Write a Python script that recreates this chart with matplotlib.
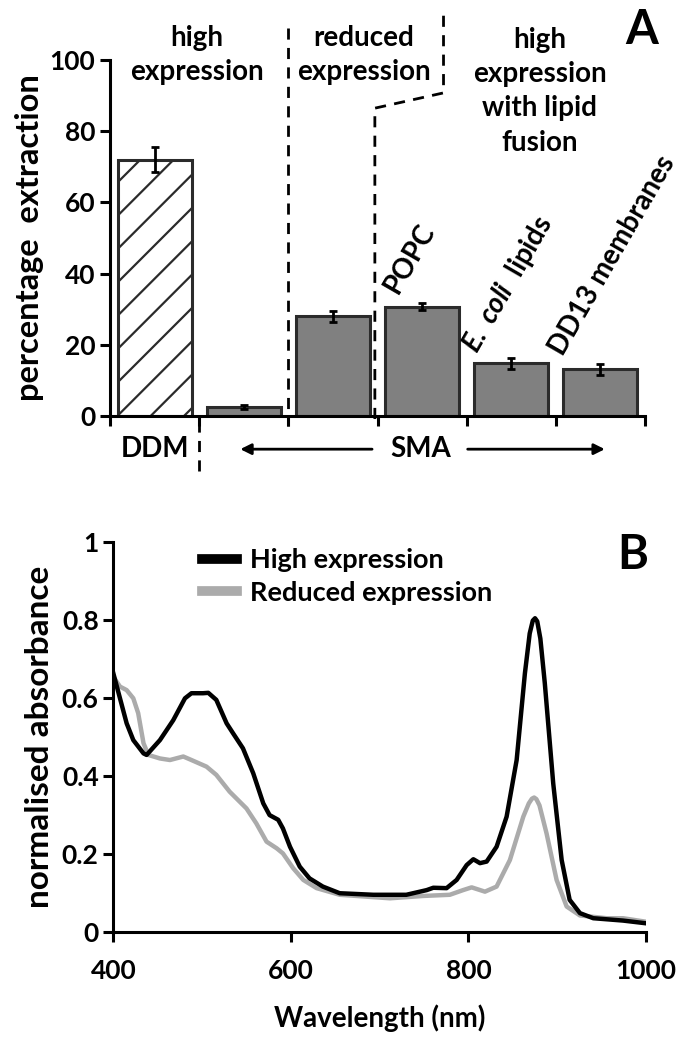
import matplotlib
matplotlib.use("Agg")
import matplotlib.pyplot as plt
from matplotlib.lines import Line2D

plt.rcParams['font.family'] = ['Lato', 'DejaVu Sans']
plt.rcParams['font.weight'] = 'bold'
plt.rcParams['mathtext.fontset'] = 'custom'
plt.rcParams['mathtext.it'] = 'Lato:italic:bold'
plt.rcParams['mathtext.rm'] = 'Lato:bold'
plt.rcParams['hatch.linewidth'] = 1.6

# ---- Panel A data ----
categories = ['DDM', 'SMA high', 'SMA reduced', 'POPC', 'E. coli lipids', 'DD13 membranes']
extraction = [72.0, 2.5, 28.0, 30.6, 14.7, 13.1]
extraction_err = [3.5, 0.6, 1.5, 1.0, 1.5, 1.5]
rot_labels = ['', '', '', 'POPC', r'$\mathit{E.\ coli}$  lipids', 'DD13 membranes']
yticks_a = [0, 20, 40, 60, 80, 100]

# ---- Panel B data ----
wl_high = [400, 415, 422.5, 434, 437.5, 452.5, 467.5, 480.7, 488, 501, 507, 516, 527.6, 535,
           546, 557.6, 568.9, 576, 585.7, 591, 599, 610, 621, 636, 655, 693, 730, 753, 760.4,
           775.4, 786.7, 798, 805.5, 813, 820.5, 831.7, 843, 854.3, 863.6, 869, 872.5, 875,
           877.5, 881, 886, 895.5, 905, 914, 925.6, 940.6, 974, 1000]
abs_high = [0.663, 0.535, 0.492, 0.458, 0.454, 0.492, 0.543, 0.599, 0.612, 0.612, 0.613, 0.595,
            0.535, 0.509, 0.471, 0.407, 0.330, 0.300, 0.288, 0.266, 0.219, 0.168, 0.138, 0.117,
            0.100, 0.096, 0.096, 0.108, 0.114, 0.113, 0.134, 0.172, 0.187, 0.177, 0.181, 0.219,
            0.296, 0.441, 0.663, 0.765, 0.798, 0.804, 0.796, 0.752, 0.638, 0.381, 0.185, 0.083,
            0.049, 0.036, 0.030, 0.023]
wl_red = [400, 407.5, 415, 422.5, 428, 434, 439.4, 452.5, 463.8, 478.8, 488, 505, 516, 531,
          550, 561, 572.6, 584, 591, 602.6, 614, 629, 655, 711.6, 749, 779, 794, 803.6, 818.6,
          831.7, 846.7, 861.8, 868, 871.5, 874, 876.5, 880, 888, 899.3, 910.6, 925.6, 955.6,
          974, 1000]
abs_red = [0.654, 0.629, 0.620, 0.599, 0.561, 0.484, 0.454, 0.445, 0.441, 0.450, 0.441, 0.424,
           0.403, 0.360, 0.317, 0.279, 0.232, 0.215, 0.202, 0.164, 0.134, 0.113, 0.096, 0.087,
           0.093, 0.096, 0.108, 0.115, 0.104, 0.117, 0.185, 0.296, 0.330, 0.342, 0.345, 0.341,
           0.325, 0.253, 0.134, 0.066, 0.043, 0.036, 0.036, 0.027]
series_names = ['High expression', 'Reduced expression']

fig = plt.figure(figsize=(6.79, 10.52), dpi=100)
axA = fig.add_axes([0.162, 0.6048, 0.788, 0.338])
axB = fig.add_axes([0.1669, 0.1138, 0.7845, 0.3713])

TICKFS = 19
LABFS = 20

# ---------- Panel A ----------
x = list(range(len(categories)))
faces = ['white'] + ['#808080'] * 5
hatches = ['/'] + [None] * 5
for xi, v, fc, h in zip(x, extraction, faces, hatches):
    axA.bar(xi, v, width=0.83, color=fc, edgecolor='#2b2b2b', linewidth=2.2, hatch=h, zorder=2)
axA.errorbar(x, extraction, yerr=extraction_err, fmt='none', ecolor='black', elinewidth=2,
             capsize=3, capthick=2, zorder=3)
axA.set_xlim(-0.5, 5.5)
axA.set_ylim(0, 100)
axA.set_yticks(yticks_a)
axA.set_yticklabels([str(t) for t in yticks_a], fontsize=TICKFS, fontweight='bold')
axA.set_xticks([i - 0.5 for i in range(len(categories) + 1)])
axA.set_xticklabels([])
for s in ['top', 'right']:
    axA.spines[s].set_visible(False)
for s in ['left', 'bottom']:
    axA.spines[s].set_linewidth(2.2)
axA.tick_params(axis='both', width=2.2, length=7, direction='out')
axA.set_ylabel('percentage  extraction', fontsize=23.5, fontweight='bold', labelpad=4)

dash = dict(color='black', lw=2, ls=(0, (4, 3)), clip_on=False, zorder=4)
axA.plot([1.5, 1.5], [109, -3], **dash)
axA.plot([0.5, 0.5], [-1.5, -17.5], **dash)
axA.plot([3.24, 3.24, 2.47, 2.47], [112.5, 90.8, 86.5, -1], **dash)

axA.text(0.475, 101.4, 'high\nexpression', ha='center', va='center', fontsize=LABFS,
         fontweight='bold', linespacing=1.38)
axA.text(2.35, 101.4, 'reduced\nexpression', ha='center', va='center', fontsize=LABFS,
         fontweight='bold', linespacing=1.38)
axA.text(4.32, 91.3, 'high\nexpression\nwith lipid\nfusion', ha='center', va='center',
         fontsize=LABFS, fontweight='bold', linespacing=1.4)
axA.text(5.46, 108.4, 'A', ha='center', va='center', fontsize=34, fontweight='bold')

rot_pos = [None, None, None, (2.73, 34.0), (3.61, 17.3), (4.58, 16.4)]
for lab, pos in zip(rot_labels, rot_pos):
    if pos is None:
        continue
    axA.text(pos[0], pos[1], lab, rotation=60, rotation_mode='anchor', ha='left',
             va='baseline', fontsize=LABFS, fontweight='bold')

axA.text(0.0, -9.4, 'DDM', ha='center', va='center', fontsize=LABFS, fontweight='bold')
axA.text(2.98, -9.4, 'SMA', ha='center', va='center', fontsize=LABFS, fontweight='bold')
axA.annotate('', xy=(0.93, -9.4), xytext=(2.47, -9.4), annotation_clip=False,
             arrowprops=dict(arrowstyle='-|>', color='black', lw=2, mutation_scale=16))
axA.annotate('', xy=(5.08, -9.4), xytext=(3.48, -9.4), annotation_clip=False,
             arrowprops=dict(arrowstyle='-|>', color='black', lw=2, mutation_scale=16))

# ---------- Panel B ----------
axB.plot(wl_red, abs_red, color='#ababab', lw=3.2, solid_joinstyle='round', zorder=2)
axB.plot(wl_high, abs_high, color='black', lw=3.2, solid_joinstyle='round', zorder=3)
axB.set_xlim(400, 1000)
axB.set_ylim(0, 1)
axB.set_xticks([400, 600, 800, 1000])
axB.set_xticklabels(['400', '600', '800', '1000'], fontsize=TICKFS, fontweight='bold')
axB.set_yticks([0, 0.2, 0.4, 0.6, 0.8, 1.0])
axB.set_yticklabels(['0', '0.2', '0.4', '0.6', '0.8', '1'], fontsize=TICKFS, fontweight='bold')
for s in ['top', 'right']:
    axB.spines[s].set_visible(False)
for s in ['left', 'bottom']:
    axB.spines[s].set_linewidth(2.2)
axB.tick_params(axis='both', width=2.2, length=7, direction='out')
axB.tick_params(axis='x', pad=12)
axB.set_xlabel('Wavelength (nm)', fontsize=LABFS, fontweight='bold', labelpad=16)
axB.set_ylabel('normalised absorbance', fontsize=24, fontweight='bold', labelpad=6)

handles = [Line2D([0], [0], color='black', lw=7), Line2D([0], [0], color='#ababab', lw=7)]
axB.legend(handles, series_names, loc='upper left', bbox_to_anchor=(0.12, 1.045), frameon=False,
           handlelength=1.3, handletextpad=0.5, labelspacing=0.3,
           prop=dict(family='Lato', weight='bold', size=19.5))
axB.text(0.975, 0.965, 'B', transform=axB.transAxes, ha='center', va='center', fontsize=34,
         fontweight='bold')

fig.savefig('out.png', dpi=100)
